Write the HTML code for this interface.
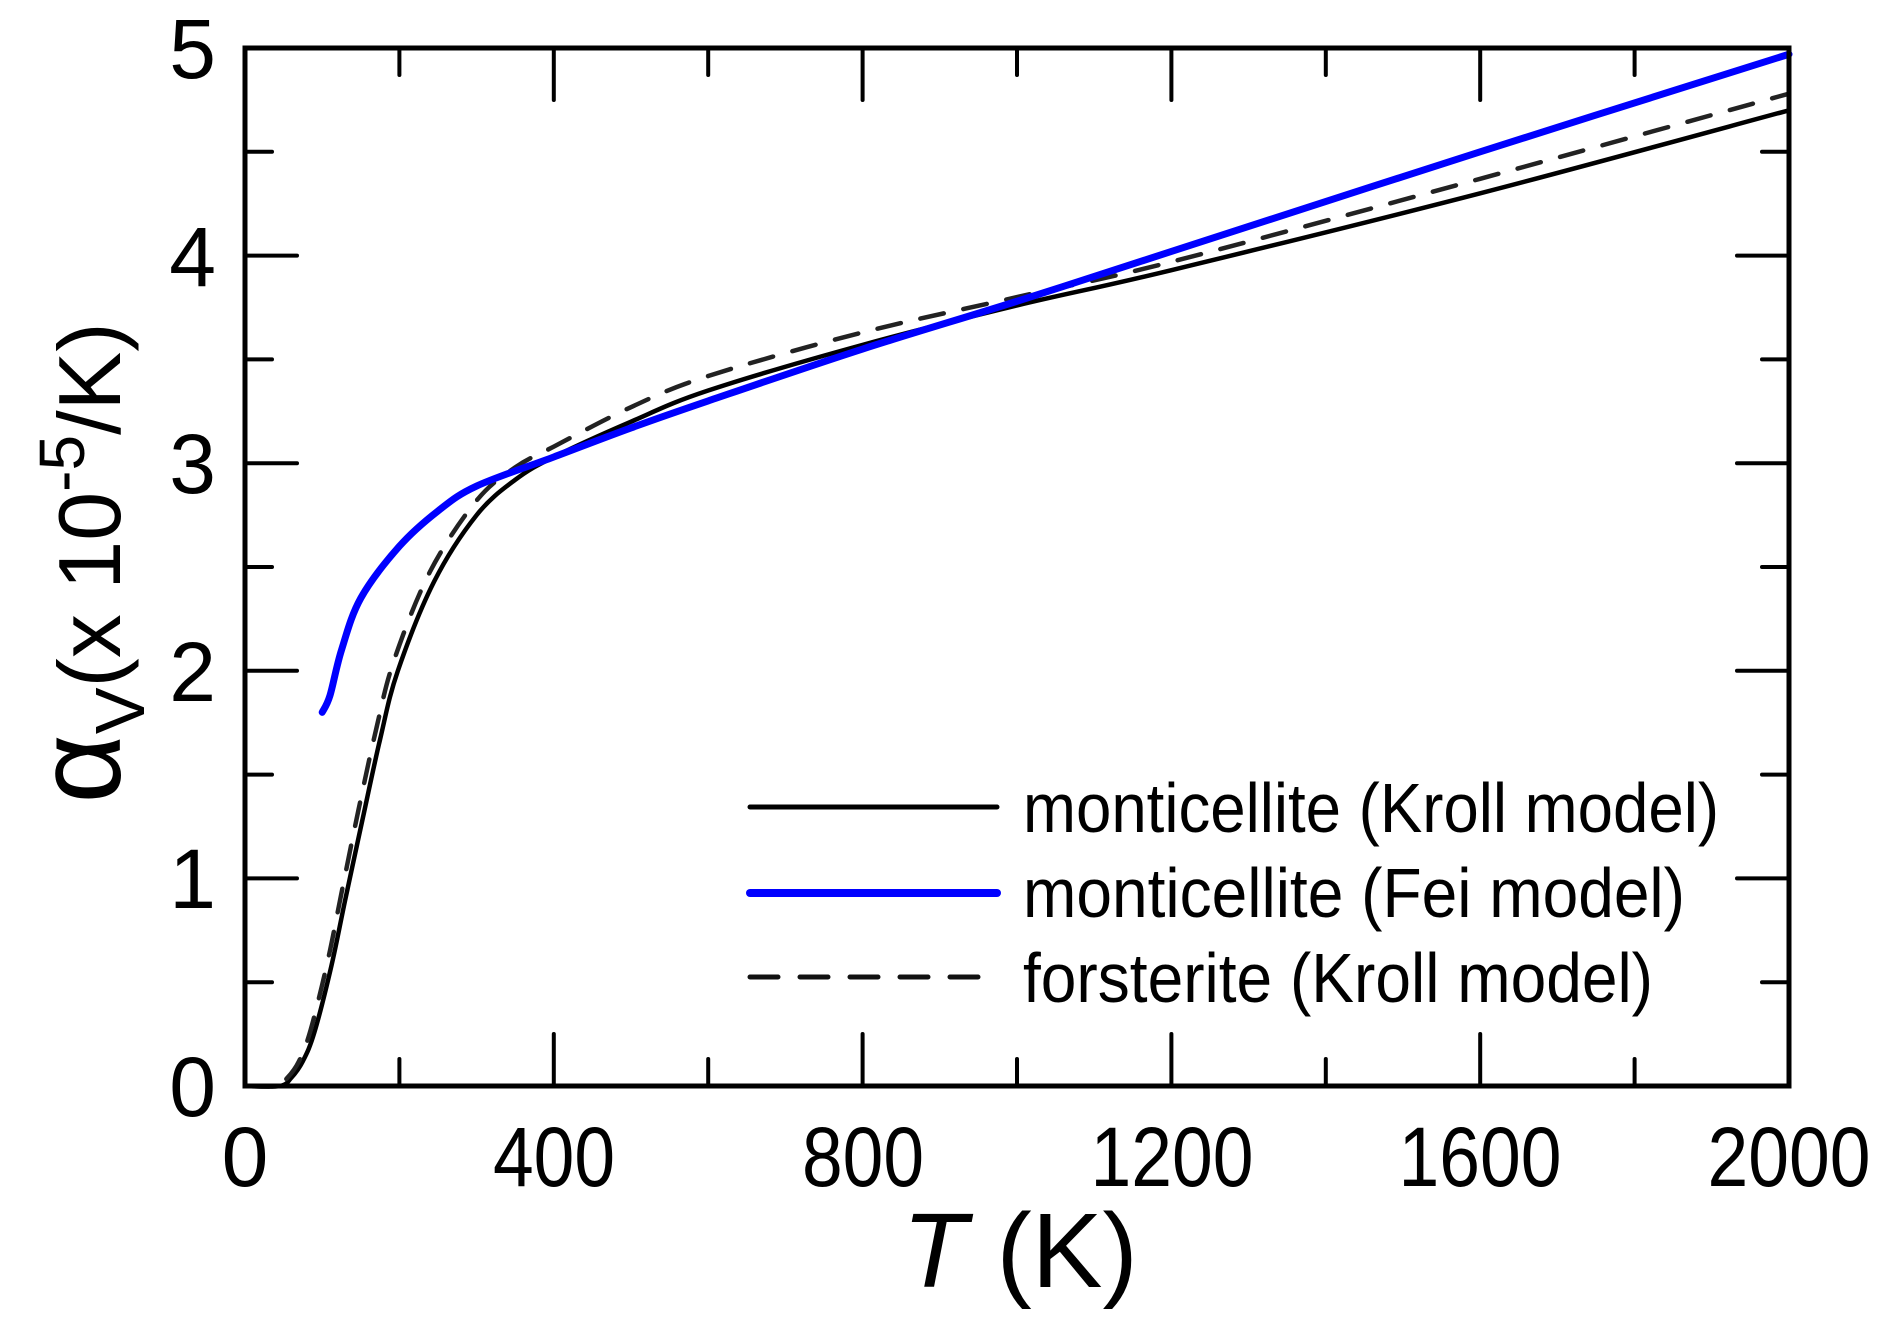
<!DOCTYPE html>
<html><head><meta charset="utf-8"><style>
html,body{margin:0;padding:0;background:#fff;}
svg{display:block;}
text{font-family:"Liberation Sans",sans-serif;fill:#000;}
</style></head><body>
<svg id="s" width="1892" height="1332" viewBox="0 0 1892 1332" xmlns="http://www.w3.org/2000/svg">
<g id="ticks" stroke="#000" stroke-width="4" stroke-linecap="round"></g>
<g id="curves" fill="none" stroke-linejoin="round" stroke-linecap="round"></g>
<rect x="245" y="48" width="1544" height="1038" fill="none" stroke="#000" stroke-width="5"/>
<g font-size="84" text-anchor="middle" lengthAdjust="spacingAndGlyphs">
<text x="245" y="1186">0</text>
<text x="554" y="1186" textLength="122" lengthAdjust="spacingAndGlyphs">400</text>
<text x="863" y="1186" textLength="122" lengthAdjust="spacingAndGlyphs">800</text>
<text x="1172" y="1186" textLength="163" lengthAdjust="spacingAndGlyphs">1200</text>
<text x="1480" y="1186" textLength="163" lengthAdjust="spacingAndGlyphs">1600</text>
<text x="1789" y="1186" textLength="163" lengthAdjust="spacingAndGlyphs">2000</text>
</g>
<g font-size="84" text-anchor="end">
<text x="216" y="1116">0</text><text x="216" y="908">1</text><text x="216" y="701">2</text>
<text x="216" y="493">3</text><text x="216" y="286">4</text><text x="216" y="78">5</text>
</g>
<text x="1020" y="1287" font-size="106" text-anchor="middle"><tspan font-style="italic">T</tspan> (K)</text>
<g transform="translate(120,563) rotate(-90)">
<text x="0" y="0" font-size="88" text-anchor="middle"><tspan font-size="120">α</tspan><tspan font-size="70" dy="24">V</tspan><tspan dy="-24">(x 10</tspan><tspan font-size="64" dy="-36">-5</tspan><tspan dy="36">/K)</tspan></text>
</g>
<g stroke-width="5" stroke-linecap="round">
<line x1="750" y1="807" x2="997" y2="807" stroke="#000"/>
<line x1="750" y1="893" x2="997" y2="893" stroke="#0000ff" stroke-width="8"/>
<line x1="750" y1="977" x2="997" y2="977" stroke="#111" stroke-dasharray="28,22"/>
</g>
<g font-size="70">
<text x="1023" y="832" textLength="696" lengthAdjust="spacingAndGlyphs">monticellite (Kroll model)</text>
<text x="1023" y="917" textLength="662" lengthAdjust="spacingAndGlyphs">monticellite (Fei model)</text>
<text x="1023" y="1002" textLength="630" lengthAdjust="spacingAndGlyphs">forsterite (Kroll model)</text>
</g>
</svg>
<script>
var X=function(t){return 245+t*0.772},Y=function(v){return 1086-v*207.6};
var tk=document.getElementById('ticks'),h='';
for(var t=200;t<2000;t+=200){var L=(t%400==0)?52:27,x=X(t);
h+='<line x1="'+x+'" y1="1086" x2="'+x+'" y2="'+(1086-L)+'"/><line x1="'+x+'" y1="48" x2="'+x+'" y2="'+(48+L)+'"/>';}
for(var v=0.5;v<5;v+=0.5){var L=(v%1==0)?52:27,y=Y(v);
h+='<line x1="245" y1="'+y+'" x2="'+(245+L)+'" y2="'+y+'"/><line x1="1789" y1="'+y+'" x2="'+(1789-L)+'" y2="'+y+'"/>';}
tk.innerHTML=h;
function path(p){var q=p.map(function(a){return[X(a[0]),Y(a[1])]});var d='M'+q[0][0]+','+q[0][1];
for(var i=0;i<q.length-1;i++){var p0=q[i-1]||q[i],p1=q[i],p2=q[i+1],p3=q[i+2]||p2;
d+=' C'+(p1[0]+(p2[0]-p0[0])/6)+','+(p1[1]+(p2[1]-p0[1])/6)+' '+(p2[0]-(p3[0]-p1[0])/6)+','+(p2[1]-(p3[1]-p1[1])/6)+' '+p2[0]+','+p2[1];}return d;}
var kroll=[[0,0],[45,0],[60,0.04],[75,0.12],[90,0.26],[112,0.58],[130,0.9],[152,1.28],[175,1.67],[198,2.0],[245,2.43],[300,2.75],[350,2.92],[400,3.03],[500,3.2],[600,3.35],[800,3.57],[1000,3.76],[1200,3.93],[1600,4.3],[2000,4.7]];
var fors=[[0,0],[40,0],[55,0.04],[70,0.12],[85,0.27],[107,0.6],[125,0.93],[147,1.33],[170,1.72],[193,2.05],[240,2.48],[300,2.82],[350,2.98],[400,3.08],[500,3.27],[600,3.42],[800,3.63],[1000,3.8],[1200,3.97],[1600,4.37],[2000,4.78]];
var fei=[[100,1.8],[110,1.88],[125,2.1],[150,2.35],[200,2.6],[250,2.77],[300,2.89],[400,3.03],[500,3.17],[600,3.3],[800,3.55],[1000,3.78],[1200,4.02],[1600,4.5],[2000,4.97]];
document.getElementById('curves').innerHTML=
'<path d="'+path(kroll)+'" stroke="#000" stroke-width="4.5"/>'+
'<path d="'+path(fors)+'" stroke="#222" stroke-width="4.5" stroke-dasharray="24,20"/>'+
'<path d="'+path(fei)+'" stroke="#0000ff" stroke-width="7"/>';
</script>
</body></html>
